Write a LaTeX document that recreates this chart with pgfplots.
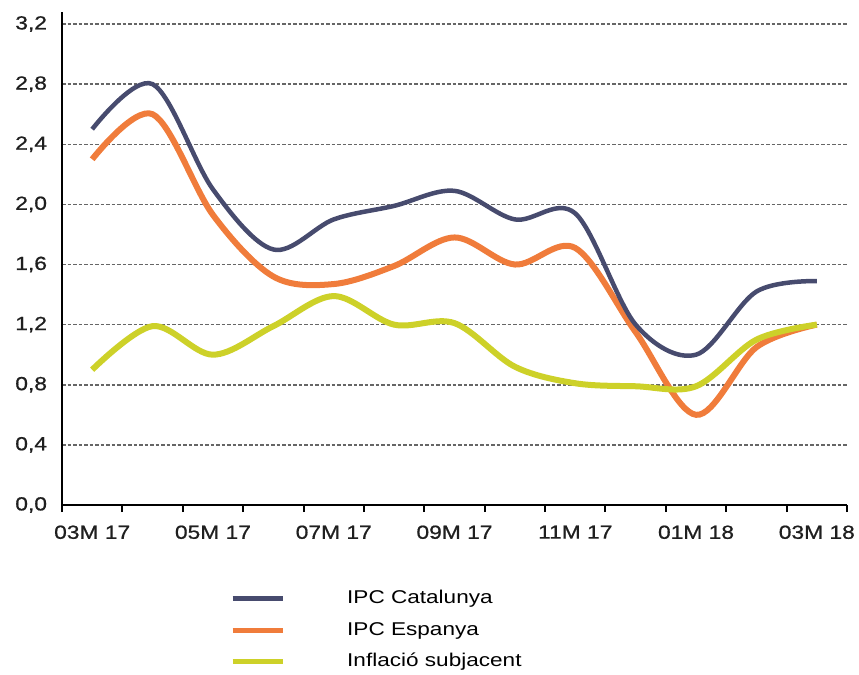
\documentclass[border=0pt]{standalone}
\usepackage{fontspec}
\setmainfont{Liberation Sans}[FakeStretch=1.22]
\newfontfamily\tickfont{Liberation Sans}[FakeStretch=1.2, FakeBold=0.8]
\usepackage{pgfplots}
\pgfplotsset{compat=1.18}
\definecolor{cat}{HTML}{474B6E}
\definecolor{esp}{HTML}{F07C3B}
\definecolor{sub}{HTML}{CDD129}
\definecolor{gridc}{HTML}{666666}
\pgfplotstableread{
x cat esp sub
0 2.50 2.30 0.90
1 2.80 2.60 1.19
2 2.10 1.93 1.00
3 1.70 1.52 1.19
4 1.90 1.47 1.39
5 1.99 1.59 1.20
6 2.09 1.78 1.21
7 1.90 1.60 0.92
8 1.94 1.71 0.81
9 1.20 1.15 0.79
10 1.00 0.60 0.79
11 1.42 1.05 1.10
12 1.49 1.20 1.20
}\datatable
\begin{document}
\begin{tikzpicture}
\useasboundingbox (0,0) rectangle (859bp,675bp);
\begin{axis}[
  at={(62bp,170bp)}, anchor=south west,
  scale only axis, width=785bp, height=493bp,
  xmin=-0.5, xmax=12.5, ymin=0, ymax=3.28,
  axis x line*=bottom, axis y line*=left,
  axis line style={black, line width=2bp},
  xtick={0,2,...,12},
  xticklabels={03M 17,05M 17,07M 17,09M 17,11M 17,01M 18,03M 18},
  minor xtick={-0.5,0.5,...,12.5},
  major tick length=0pt,
  minor tick length=7bp,
  tick align=outside,
  xtick style={black, line width=2bp},
  ytick={0,0.4,...,3.2},
  ytick style={draw=none},
  ymajorgrids,
  grid style={gridc, line width=1.5bp, dash pattern=on 3.5bp off 2bp},
  yticklabel style={/pgf/number format/use comma, /pgf/number format/fixed, /pgf/number format/fixed zerofill, /pgf/number format/precision=1, /pgf/number format/assume math mode=true, xshift=-11.5bp},
  ticklabel style={font=\tickfont\fontsize{19bp}{22bp}\selectfont, text=black!88},
  xticklabel style={yshift=-17bp},
  legend style={at={(axis description cs:0.214,-0.172)}, anchor=north west,
    draw=none, fill=none, inner sep=0pt,
    font=\fontsize{18.5bp}{22bp}\selectfont,
    nodes={text height=14bp, text depth=4bp, inner sep=0pt},
    row sep=13.5bp,
    /tikz/every odd column/.append style={column sep=62bp}},
  legend cell align=left,
  legend image code/.code={\draw[#1, line width=5bp] (0bp,0bp) -- (50bp,0bp);},
]
\addlegendimage{cat}
\addlegendentry{IPC Catalunya}
\addlegendimage{esp}
\addlegendentry{IPC Espanya}
\addlegendimage{sub}
\addlegendentry{Inflació subjacent}
\addplot[esp, line width=6bp, smooth, tension=0.55, forget plot] table[x=x, y=esp] {\datatable};
\addplot[cat, line width=4.5bp, smooth, tension=0.55, forget plot] table[x=x, y=cat] {\datatable};
\addplot[sub, line width=6bp, smooth, tension=0.55, forget plot] table[x=x, y=sub] {\datatable};
\end{axis}
\end{tikzpicture}
\end{document}
